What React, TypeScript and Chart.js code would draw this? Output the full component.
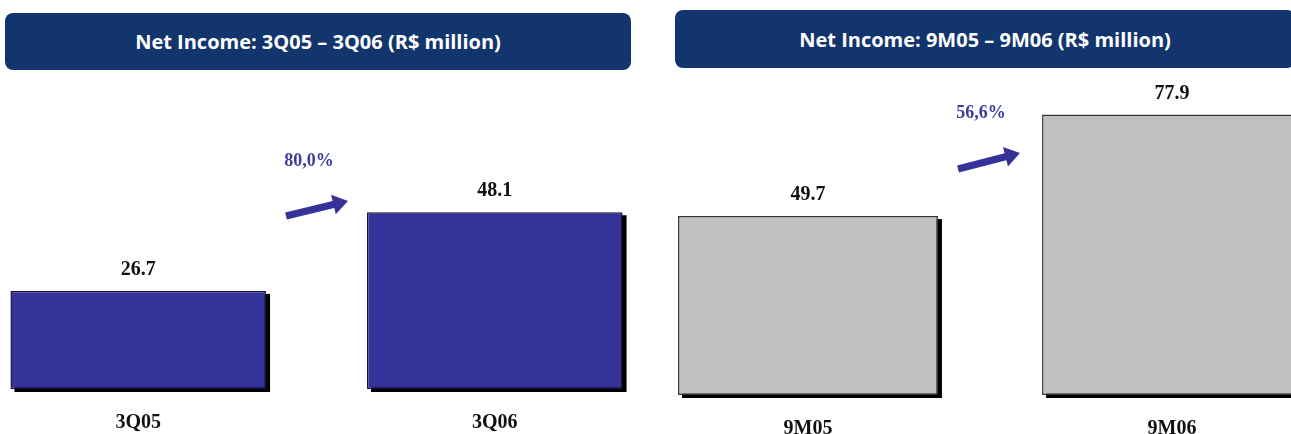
import React, { useEffect, useRef } from "react";
import { Chart, registerables } from "chart.js";

Chart.register(...registerables);

// ---- data ----
const quarterTitle = "Net Income: 3Q05 – 3Q06 (R$ million)";
const quarterLabels = ["3Q05", "3Q06"];
const quarterValues = [26.7, 48.1];
const quarterGrowth = "80,0%";

const ytdTitle = "Net Income: 9M05 – 9M06 (R$ million)";
const ytdLabels = ["9M05", "9M06"];
const ytdValues = [49.7, 77.9];
const ytdGrowth = "56,6%";

const SERIF = "'Liberation Serif', 'Times New Roman', serif";
const ARROW_COLOR = "#353399";
const GROWTH_COLOR = "#3d3d9e";
const HEADER_COLOR = "#12356e";

type PanelProps = {
  title: string;
  labels: string[];
  values: number[];
  growth: string;
  fill: string;
  border: string;
  yMax: number;
  padTop: number;
  axisHeight: number;
  canvasLeft: number;
  canvasWidth: number;
  barPct: number;
  header: { left: number; top: number; width: number; height: number };
  arrow: { x1: number; y1: number; x2: number; y2: number };
  growthPos: { x: number; y: number };
};

const decorPlugin = {
  id: "decor",
  beforeDatasetsDraw(chart: any) {
    const ctx = chart.ctx;
    const meta = chart.getDatasetMeta(0);
    ctx.save();
    ctx.fillStyle = "#000";
    meta.data.forEach((el: any) => {
      const p = el.getProps(["x", "y", "base", "width"], true);
      ctx.fillRect(p.x - p.width / 2 + 4, p.y + 3, p.width, p.base - p.y);
    });
    ctx.restore();
  },
  afterDatasetsDraw(chart: any, _args: any, opts: any) {
    const ctx = chart.ctx;
    const meta = chart.getDatasetMeta(0);
    const values = chart.data.datasets[0].data;
    ctx.save();
    ctx.font = `bold 20px ${SERIF}`;
    ctx.fillStyle = "#111";
    ctx.textAlign = "center";
    ctx.textBaseline = "middle";
    meta.data.forEach((el: any, i: number) => {
      const p = el.getProps(["x", "y"], true);
      ctx.fillText(Number(values[i]).toFixed(1), p.x, p.y - 21);
    });

    // growth arrow
    const off = opts.offset;
    const a = opts.arrow;
    const x1 = a.x1 - off, y1 = a.y1, x2 = a.x2 - off, y2 = a.y2;
    const dx = x2 - x1, dy = y2 - y1;
    const len = Math.hypot(dx, dy);
    const ux = dx / len, uy = dy / len;
    const nx = -uy, ny = ux;
    const headLen = 15, headHalf = 10, shaftHalf = 3.6;
    const bx = x2 - ux * headLen, by = y2 - uy * headLen;
    ctx.fillStyle = ARROW_COLOR;
    ctx.beginPath();
    ctx.moveTo(x1 + nx * shaftHalf, y1 + ny * shaftHalf);
    ctx.lineTo(bx + nx * shaftHalf, by + ny * shaftHalf);
    ctx.lineTo(bx + nx * headHalf, by + ny * headHalf);
    ctx.lineTo(x2, y2);
    ctx.lineTo(bx - nx * headHalf, by - ny * headHalf);
    ctx.lineTo(bx - nx * shaftHalf, by - ny * shaftHalf);
    ctx.lineTo(x1 - nx * shaftHalf, y1 - ny * shaftHalf);
    ctx.closePath();
    ctx.fill();

    // growth text
    ctx.font = `bold 18px ${SERIF}`;
    ctx.fillStyle = GROWTH_COLOR;
    ctx.fillText(opts.growth, opts.growthPos.x - off, opts.growthPos.y);
    ctx.restore();
  },
};

function Panel(props: PanelProps) {
  const ref = useRef<HTMLCanvasElement | null>(null);
  useEffect(() => {
    if (!ref.current) return;
    const chart = new Chart(ref.current, {
      type: "bar",
      data: {
        labels: props.labels,
        datasets: [
          {
            data: props.values,
            backgroundColor: props.fill,
            borderColor: props.border,
            borderWidth: 1.5,
            borderSkipped: false,
            categoryPercentage: 1,
            barPercentage: props.barPct,
          },
        ],
      },
      options: {
        responsive: false,
        animation: false,
        devicePixelRatio: 1,
        layout: { padding: { top: props.padTop, left: 0, right: 0, bottom: 0 } },
        plugins: {
          legend: { display: false },
          tooltip: { enabled: false },
          decor: {
            offset: props.canvasLeft,
            arrow: props.arrow,
            growth: props.growth,
            growthPos: props.growthPos,
          },
        } as any,
        scales: {
          x: {
            grid: { display: false, drawTicks: false },
            border: { display: false },
            ticks: {
              padding: 22,
              color: "#111",
              font: { family: SERIF, size: 20, weight: "bold" },
            },
            afterFit: (scale: any) => {
              scale.height = props.axisHeight;
            },
          },
          y: {
            display: false,
            min: 0,
            max: props.yMax,
          },
        },
      },
      plugins: [decorPlugin],
    } as any);
    return () => chart.destroy();
  }, []);

  return (
    <>
      <div
        style={{
          position: "absolute",
          left: props.header.left,
          top: props.header.top,
          width: props.header.width,
          height: props.header.height,
          background: HEADER_COLOR,
          borderRadius: 8,
          color: "#fff",
          fontFamily: "'Open Sans', Lato, sans-serif",
          fontWeight: 700,
          fontSize: 20,
          display: "flex",
          alignItems: "center",
          justifyContent: "center",
          whiteSpace: "nowrap",
        }}
      >
        {props.title}
      </div>
      <canvas
        ref={ref}
        width={props.canvasWidth}
        height={434}
        style={{
          position: "absolute",
          left: props.canvasLeft,
          top: 0,
          width: props.canvasWidth,
          height: 434,
        }}
      />
    </>
  );
}

export default function App() {
  return (
    <div
      style={{
        position: "fixed",
        left: 0,
        top: 0,
        width: 1291,
        height: 434,
        overflow: "hidden",
        background: "#fff",
      }}
    >
      <Panel
        title={quarterTitle}
        labels={quarterLabels}
        values={quarterValues}
        growth={quarterGrowth}
        fill="#353399"
        border="#15153f"
        yMax={80}
        padTop={95}
        axisHeight={45}
        canvasLeft={-40}
        canvasWidth={713}
        barPct={0.717}
        header={{ left: 5, top: 13, width: 626, height: 57 }}
        arrow={{ x1: 286, y1: 216, x2: 348, y2: 201 }}
        growthPos={{ x: 309, y: 161 }}
      />
      <Panel
        title={ytdTitle}
        labels={ytdLabels}
        values={ytdValues}
        growth={ytdGrowth}
        fill="#c0c0c0"
        border="#333333"
        yMax={90}
        padTop={71}
        axisHeight={39}
        canvasLeft={626}
        canvasWidth={728}
        barPct={0.714}
        header={{ left: 675, top: 10, width: 620, height: 58 }}
        arrow={{ x1: 958, y1: 169, x2: 1020, y2: 153 }}
        growthPos={{ x: 981, y: 113 }}
      />
    </div>
  );
}
